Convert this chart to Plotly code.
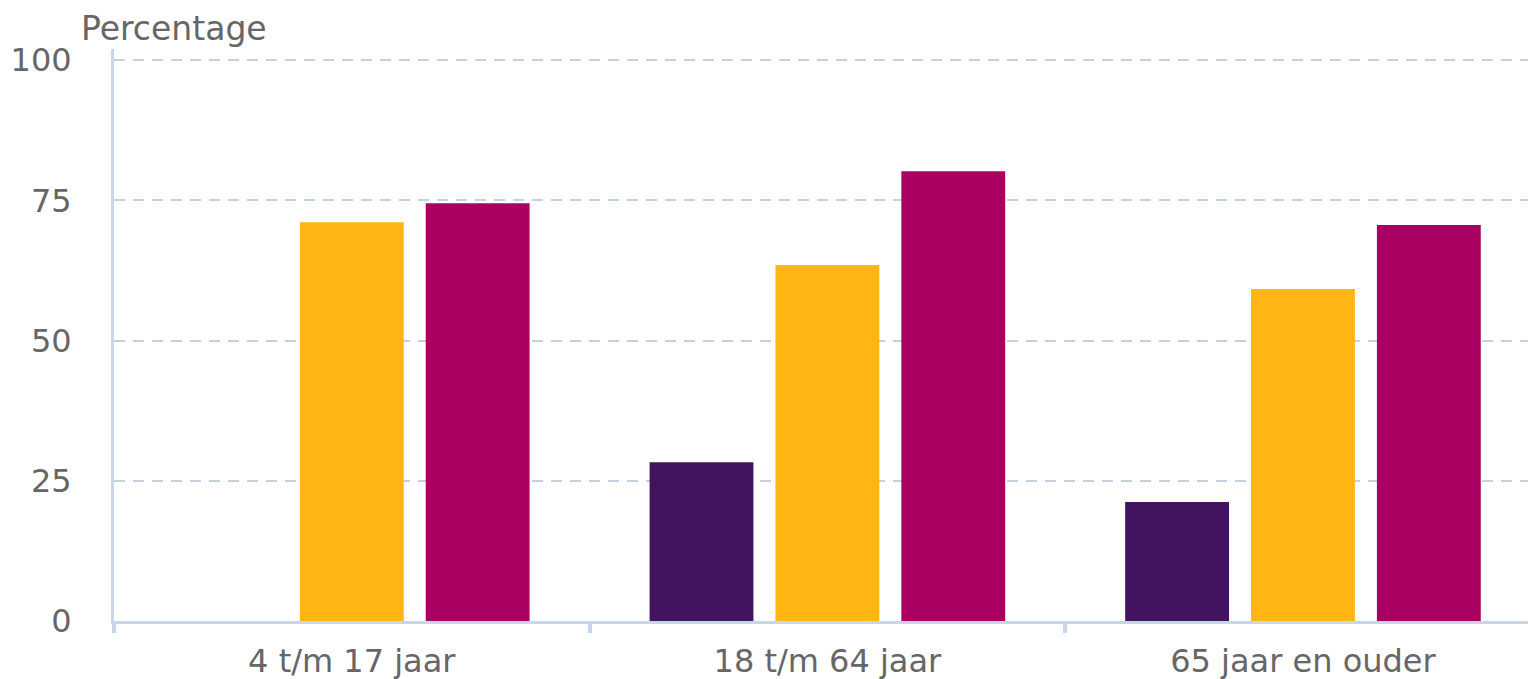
import plotly.graph_objects as go

categories = ["4 t/m 17 jaar", "18 t/m 64 jaar", "65 jaar en ouder"]
series_names = ["Reeks 1", "Reeks 2", "Reeks 3"]
purple_vals = [None, 28.3, 21.2]
yellow_vals = [71.1, 63.5, 59.2]
magenta_vals = [74.5, 80.2, 70.6]
colors = ["#42145f", "#ffb612", "#a90061"]
y_ticks = [0, 25, 50, 75, 100]

FONT = "Verdana, DejaVu Sans, sans-serif"
TXT = "#666666"
fig = go.Figure()
for name, vals, col in zip(series_names, [purple_vals, yellow_vals, magenta_vals], colors):
    fig.add_trace(go.Bar(x=categories, y=vals, name=name, marker=dict(color=col, line=dict(width=0)),
                         hoverinfo="skip"))

# page has a small body margin; figure sized so plot spans page x 113..1536, y 60..621
fig.update_layout(
    width=1528, height=671,
    margin=dict(l=106, r=0, t=41, b=58),
    plot_bgcolor="white", paper_bgcolor="white",
    barmode="group", bargap=0.206, bargroupgap=0.175,
    showlegend=False,
    font=dict(family=FONT, size=32, color=TXT),
)
fig.update_xaxes(
    type="category", range=[-0.5, 2.49],
    showline=True, linecolor="#c9d6e8", linewidth=3,
    ticks="outside", tickson="boundaries", ticklen=9, tickwidth=4, tickcolor="#c9d6e8",
    ticklabelstandoff=10,
    tickfont=dict(family=FONT, size=32, color=TXT),
    showgrid=False, zeroline=False,
)
fig.update_yaxes(
    range=[0, 102], tickvals=y_ticks,
    showline=True, linecolor="#c9d6e8", linewidth=3,
    showgrid=True, gridcolor="#c3d1e1", gridwidth=2, griddash="11px,8px",
    zeroline=False,
    ticks="", ticklabelstandoff=33,
    tickfont=dict(family=FONT, size=32, color=TXT),
)
fig.add_annotation(text="Percentage", xref="paper", yref="paper", x=0, y=1,
                   xshift=-34, yshift=41, xanchor="left", yanchor="top", showarrow=False,
                   borderpad=0,
                   font=dict(family=FONT, size=33, color=TXT))
fig.write_html("out.html")
